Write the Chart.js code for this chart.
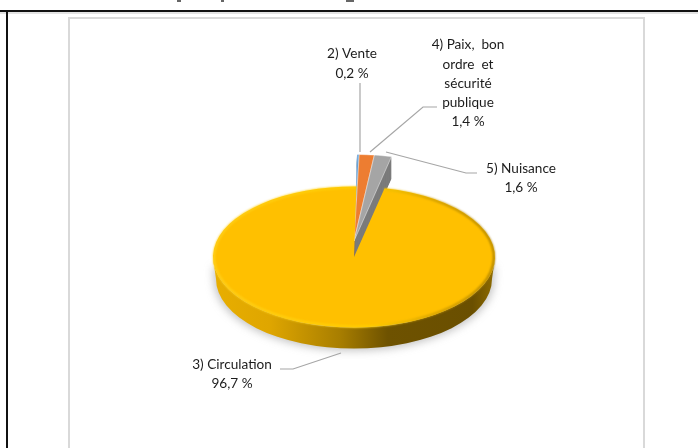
<!DOCTYPE html>
<html>
<head>
<meta charset="utf-8">
<style>
  html, body { margin: 0; padding: 0; background: #fff; }
  canvas { display: block; }
</style>
<script src="https://cdn.jsdelivr.net/npm/chart.js@4"></script>
</head>
<body>
<canvas id="pieChart" width="698" height="448"></canvas>
<script>
// Values, in drawing order
const categories = ['2) Vente', '4) Paix, bon ordre et sécurité publique', '5) Nuisance', '3) Circulation'];
const shares = [0.2, 1.4, 1.6, 96.7];
const sliceColors = ['#5b9bd5', '#ed7d31', '#a5a5a5', '#ffc000'];
const wallColors = ['#41719c', '#ae5a21', '#7b7b7b', '#b38600'];
const explodedBy = [32, 32, 32, 0];

const squash = 0.5; // flattens the circle into the tilted disc
const depth = 22; // thickness of the disc

// Label layout: text lines with their centre
const labelBlocks = [
  { lines: ['2) Vente', '0,2 %'], x: 352, y: [54, 74] },
  { lines: ['4) Paix,  bon', 'ordre  et', 'sécurité', 'publique', '1,4 %'], x: 468, y: [45, 65, 84, 103, 122] },
  { lines: ['5) Nuisance', '1,6 %'], x: 521, y: [169, 188] },
  { lines: ['3) Circulation', '96,7 %'], x: 232, y: [365, 384] },
];
const leaderLines = [
  [[360, 83], [360, 152]],
  [[437, 107], [423, 107], [370, 152]],
  [[477, 173], [466, 173], [386, 152]],
  [[280, 369], [293, 369], [341, 353]],
];

// Walls of the small exploded slices, stacked under their top face
const drawSmallWalls = (chart, ctx) => {
  const arcs = chart.getDatasetMeta(0).data;
  const midY = arcs[3].y;
  arcs.forEach((arc, i) => {
    if (!explodedBy[i]) return;
    const r = arc.outerRadius;
    const cy = midY + (arc.y - midY) * squash;
    ctx.fillStyle = wallColors[i];
    for (let d = depth; d > 0; d--) {
      ctx.beginPath();
      ctx.moveTo(arc.x, cy + d);
      ctx.ellipse(arc.x, cy + d, r, r * squash, 0, arc.startAngle, arc.endAngle);
      ctx.closePath();
      ctx.fill();
    }
  });
};

// Front wall of the big slice, plus the soft shadow round it
const drawBigWall = (chart, ctx) => {
  const arc = chart.getDatasetMeta(0).data[3];
  const r = arc.outerRadius;
  const ry = r * squash;

  ctx.save();
  ctx.filter = 'blur(4px)';
  ctx.fillStyle = 'rgba(120,120,120,0.45)';
  ctx.beginPath();
  ctx.ellipse(arc.x, arc.y + depth + 1, r - 1, ry, 0, 0, Math.PI);
  ctx.lineTo(arc.x - r, arc.y + 10);
  ctx.lineTo(arc.x + r, arc.y + 10);
  ctx.closePath();
  ctx.fill();
  ctx.restore();

  const wall = ctx.createLinearGradient(arc.x - r, 0, arc.x + r, 0);
  wall.addColorStop(0, '#e8ae00');
  wall.addColorStop(0.2, '#dfa600');
  wall.addColorStop(0.45, '#a87e00');
  wall.addColorStop(0.62, '#6e5200');
  wall.addColorStop(0.92, '#6a4f00');
  wall.addColorStop(1, '#8f6c00');
  ctx.fillStyle = wall;
  ctx.beginPath();
  ctx.ellipse(arc.x, arc.y, r, ry, 0, 0, Math.PI);
  ctx.ellipse(arc.x, arc.y + depth, r - 3, ry - 1, 0, Math.PI, 0, true);
  ctx.closePath();
  ctx.fill();
};

const tiltedPie = {
  id: 'tiltedPie',
  // lift the small slices away from the disc and make them a bit longer
  afterDatasetsUpdate(chart) {
    chart.getDatasetMeta(0).data.forEach((arc, i) => {
      arc.y -= explodedBy[i];
      arc.outerRadius += explodedBy[i];
    });
  },
  beforeDraw(chart) {
    const ctx = chart.ctx;
    ctx.save();
    ctx.fillStyle = '#fff';
    ctx.fillRect(0, 0, chart.width, chart.height);
    // chart box
    ctx.strokeStyle = '#d9d9d9';
    ctx.lineWidth = 2;
    ctx.strokeRect(69, 18, 575, 460);
    // table rules of the page
    ctx.fillStyle = '#e3e3e3';
    ctx.fillRect(0, 12, chart.width, 2);
    ctx.fillStyle = '#111';
    ctx.fillRect(0, 10, chart.width, 2);
    ctx.fillRect(6, 10, 2, chart.height);
    // bottoms of the cut-off heading letters
    ctx.fillStyle = '#666';
    ctx.fillRect(177, 0, 4, 2);
    ctx.fillRect(221, 0, 3, 2);
    ctx.fillRect(346, 0, 8, 2);
    ctx.restore();
  },
  beforeDatasetDraw(chart) {
    const ctx = chart.ctx;
    const midY = chart.getDatasetMeta(0).data[3].y;
    drawSmallWalls(chart, ctx);
    drawBigWall(chart, ctx);
    ctx.save();
    ctx.translate(0, midY * (1 - squash));
    ctx.scale(1, squash);
  },
  afterDatasetDraw(chart) {
    const ctx = chart.ctx;
    ctx.restore();
    const arc = chart.getDatasetMeta(0).data[3];
    const r = arc.outerRadius;
    // bevel along the rim of the big slice
    const rim = ctx.createLinearGradient(arc.x - r, 0, arc.x + r, 0);
    rim.addColorStop(0, '#ffd21f');
    rim.addColorStop(0.55, '#ffd000');
    rim.addColorStop(0.8, '#c99800');
    rim.addColorStop(1, '#a37b00');
    ctx.save();
    ctx.filter = 'blur(1px)';
    ctx.strokeStyle = rim;
    ctx.lineWidth = 2;
    ctx.beginPath();
    ctx.ellipse(arc.x, arc.y, r - 1, r * squash - 1, 0, arc.startAngle, arc.endAngle);
    ctx.stroke();
    ctx.restore();
  },
  afterDraw(chart) {
    const ctx = chart.ctx;
    ctx.save();
    ctx.strokeStyle = '#a6a6a6';
    ctx.lineWidth = 1.2;
    leaderLines.forEach((pts) => {
      ctx.beginPath();
      pts.forEach((p, i) => (i ? ctx.lineTo(p[0], p[1]) : ctx.moveTo(p[0], p[1])));
      ctx.stroke();
    });
    ctx.fillStyle = '#1c1c1c';
    ctx.font = '13.6px Lato';
    ctx.textAlign = 'center';
    ctx.textBaseline = 'middle';
    labelBlocks.forEach((block) => {
      block.lines.forEach((line, i) => ctx.fillText(line, block.x, block.y[i]));
    });
    ctx.restore();
  },
};

const chart = new Chart(document.getElementById('pieChart').getContext('2d'), {
  type: 'pie',
  data: {
    labels: categories,
    datasets: [
      {
        data: shares,
        backgroundColor: sliceColors,
        borderColor: '#fff',
        borderWidth: [0.6, 0.6, 0.6, 0],
        radius: 141,
        clip: false,
      },
    ],
  },
  options: {
    responsive: false,
    animation: false,
    rotation: 1,
    layout: { padding: { left: 10, top: 66 } },
    plugins: { legend: { display: false }, tooltip: { enabled: false } },
  },
  plugins: [tiltedPie],
});
</script>
</body>
</html>
